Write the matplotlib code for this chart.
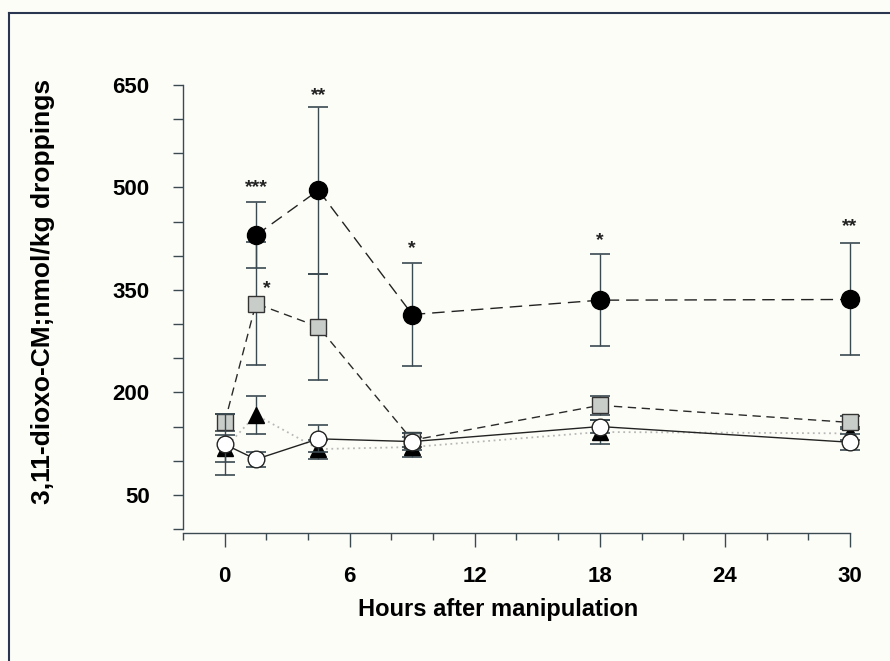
import numpy as np
import matplotlib.pyplot as plt
from matplotlib.lines import Line2D

plt.rcParams['font.family'] = ['Liberation Sans', 'DejaVu Sans']
plt.rcParams['font.weight'] = 'bold'

# Hours after manipulation
hours = [0, 1.5, 4.5, 9, 18, 30]

# black circles (no value at 0 h)
black_x = [1.5, 4.5, 9, 18, 30]
black_y = [430, 496, 314, 335, 336]
black_err = [48, 122, 75, 67, 82]
# grey squares
sq_y = [156, 330, 296, 130, 181, 156]
sq_err = [12, 90, 78, 10, 14, 10]
# black triangles
tri_y = [118, 167, 117, 120, 142, 140]
tri_err = [20, 28, 14, 15, 18, 10]
# open circles
open_y = [124, 102, 132, 128, 150, 127]
open_err = [45, 11, 20, 13, 10, 12]

# significance marks
ann_x = [1.5, 4.5, 9, 18, 30, 2.0]
ann_y = [487, 622, 398, 410, 430, 340]
ann_txt = ['***', '**', '*', '*', '**', '*']

bg = '#fdfdf8'
fig = plt.figure(figsize=(8.9, 6.61), dpi=100, facecolor=bg)
ax = fig.add_axes([0.2056, 0.1997, 0.7494, 0.6717], facecolor=bg)

ecol = '#3a4a50'
ekw = dict(ecolor=ecol, elinewidth=1.0, capsize=7, capthick=1.2)


def draw(x, y, err, z, **kw):
    line, caps, bars = ax.errorbar(x, y, yerr=err, zorder=z, **ekw, **kw)
    for a in [line, *caps, *bars]:
        a.set_clip_on(False)


draw(hours, tri_y, tri_err, 2, color='#b8b8b8', linestyle=(0, (1, 2)), linewidth=1.3,
     marker='^', markersize=12, markerfacecolor='black', markeredgecolor='black')
draw(hours, sq_y, sq_err, 3, color='#2a2a2a', linestyle=(0, (6, 4)), linewidth=1.0,
     marker='s', markersize=11, markerfacecolor='#c9cdc9', markeredgecolor='#333333')
draw(hours, open_y, open_err, 4, color='#222222', linestyle='-', linewidth=1.0,
     marker='o', markersize=12, markerfacecolor='white', markeredgecolor='#222222')
draw(black_x, black_y, black_err, 5, color='#222222', linestyle=(0, (9, 5)), linewidth=1.0,
     marker='o', markersize=13, markerfacecolor='black', markeredgecolor='black')

for x, y, t in zip(ann_x, ann_y, ann_txt):
    ax.text(x, y, t, ha='center', va='bottom', fontsize=14, fontweight='bold', color='#222222')

ax.set_xlim(-2, 30)
ax.set_ylim(0, 650)
ax.set_xticks([0, 6, 12, 18, 24, 30])
ax.set_xticks(np.arange(-2, 31, 2), minor=True)
ax.set_yticks([50, 200, 350, 500, 650])
ax.set_yticks(np.arange(0, 651, 50), minor=True)

for s in ['top', 'right']:
    ax.spines[s].set_visible(False)
ax.spines['bottom'].set_position(('outward', 3))
for s in ['left', 'bottom']:
    ax.spines[s].set_color('#3a4a50')
    ax.spines[s].set_linewidth(1.0)

ax.tick_params(axis='x', which='major', length=10, width=1, pad=14, labelsize=16, colors='#3a4a50',
               labelcolor='black')
ax.tick_params(axis='x', which='minor', length=5, width=1, colors='#3a4a50')
ax.tick_params(axis='y', which='both', length=7, width=1, pad=17, labelsize=16, colors='#3a4a50',
               labelcolor='black')

ax.set_xlabel('Hours after manipulation', fontsize=17, fontweight='bold')
ax.set_ylabel('3,11-dioxo-CM;nmol/kg droppings', fontsize=19, fontweight='bold')
ax.xaxis.set_label_coords(0.472, -0.155)
ax.yaxis.set_label_coords(-0.192, 0.536)

# scanned page frame
fig.add_artist(Line2D([0.0101, 1.0], [0.980, 0.980], transform=fig.transFigure, color='#2a3550', lw=1.5))
fig.add_artist(Line2D([0.0101, 0.0101], [0.0, 0.980], transform=fig.transFigure, color='#2a3550', lw=1.5))

fig.savefig('out.png', dpi=100, facecolor=bg)
